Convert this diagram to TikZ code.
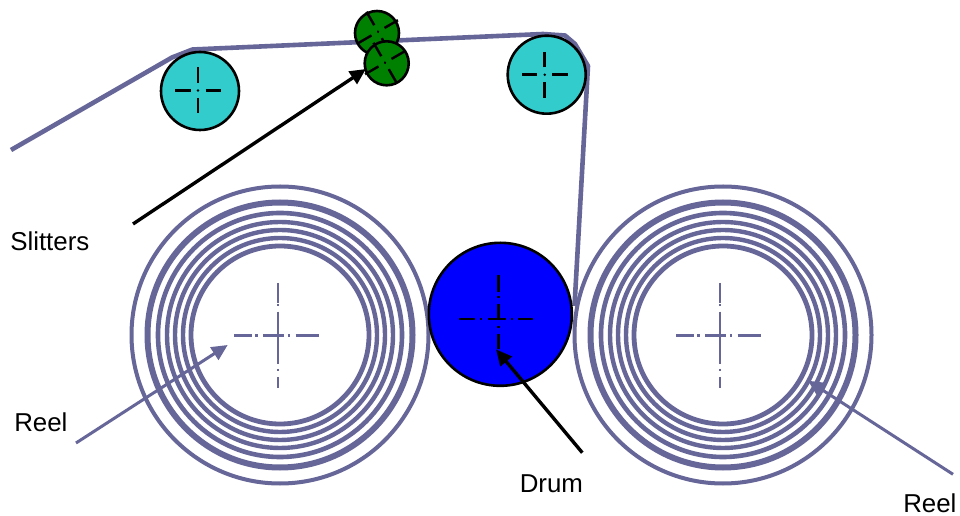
\documentclass[tikz,border=0pt]{standalone}
\usepackage{fontspec}
\setmainfont{Liberation Sans}
\usetikzlibrary{arrows.meta}
\definecolor{web}{HTML}{666699}
\definecolor{teal}{HTML}{33CCCC}
\definecolor{grn}{HTML}{008000}
\definecolor{blu}{HTML}{0000FF}
\tikzset{
  px/.style={line width=#1*0.75pt},
  webline/.style={draw=web,px=4.6,line join=round},
  ring/.style={draw=web,px=#1},
  roller/.style={circle,draw=black,px=2.6,inner sep=0pt,outer sep=0pt,minimum size=#1*0.75pt},
  lbl/.style={font=\fontsize{19.4pt}{22pt}\selectfont,inner sep=0pt,anchor=base west,text=black},
  pointer/.style={draw=black,px=3.4,-{Triangle[length=12pt,width=11pt]},shorten >=0pt},
  weblead/.style={draw=web,px=3,-{Triangle[length=12pt,width=11pt]}},
  cl/.style={draw=#1,px=2.5}
}
\newcommand{\crossmark}[6]{% x, y, rotation, inner, outer, colour
  \begin{scope}[shift={(#1,#2)},rotate=#3]
    \foreach \a in {0,90,180,270}
      \draw[cl=#6,rotate=\a] (#4,0) -- (#5,0);
    \fill[#6] (0,0) circle (1.4);
  \end{scope}}
\begin{document}
\begin{tikzpicture}[x=0.75pt,y=-0.75pt]
\useasboundingbox (0,0) rectangle (960,516);
\fill[white] (0,0) rectangle (960,516);

% web
\coordinate (w0) at (11,150);
\coordinate (w1) at (172,57.5);
\coordinate (w2) at (192.5,49.5);
\coordinate (w3) at (543,34);
\coordinate (w4) at (565,35.5);
\coordinate (w5) at (575,44);
\coordinate (w6) at (588,66);
\coordinate (w7) at (574.5,306);
\draw[webline] (w0) -- (w1) -- (w2) -- (w3) -- (w4) -- (w5) -- (w6) -- (w7);

% reels
\foreach \cx in {280,723}{
  \draw[ring=4]   (\cx,335) circle (148.5);
  \draw[ring=6]   (\cx,335) circle (132.5);
  \draw[ring=4.6] (\cx,335) circle (122);
  \draw[ring=4.4] (\cx,335) circle (113);
  \draw[ring=4.4] (\cx,335) circle (105);
  \draw[ring=4.4] (\cx,335) circle (97);
  \draw[ring=4.8] (\cx,335) circle (89);
}
% reel centre lines
\draw[draw=web,px=2.5,dash pattern=on 13.5pt off 2.6pt on 1.8pt off 4.2pt on 15.7pt off 2.6pt on 1.8pt off 4pt on 18.5pt off 40pt] (234,335.3) -- (319,335.3);
\draw[draw=web,px=2.5,dash pattern=on 14.8pt off 1pt on 1.6pt off 4pt on 39pt off 4pt on 1.6pt off 4.5pt on 10.5pt off 40pt] (278,283) -- (278,388);
\draw[draw=web,px=2.5,dash pattern=on 13.5pt off 2.6pt on 1.8pt off 4.2pt on 15.7pt off 2.6pt on 1.8pt off 4pt on 18.5pt off 40pt] (676,335.3) -- (761,335.3);
\draw[draw=web,px=2.5,dash pattern=on 14.8pt off 1pt on 1.6pt off 4pt on 39pt off 4pt on 1.6pt off 4.5pt on 10.5pt off 40pt] (720,283) -- (720,388);

% teal rollers
\node[roller=78,fill=teal] (tealL) at (200,91) {};
\crossmark{198}{90.5}{0}{7.5}{23}{black}
\node[roller=78,fill=teal] (tealR) at (546.7,74.7) {};
\crossmark{544.7}{74.7}{0}{7.5}{23}{black}

% slitters
\node[roller=44,fill=grn] (slitA) at (377,33) {};
\crossmark{378}{31.7}{30}{7.5}{23}{black}
\node[roller=44,fill=grn] (slitB) at (386.7,63.3) {};
\crossmark{385}{62.7}{30}{7.5}{23}{black}

% drum
\node[roller=143,fill=blu] (drum) at (500.3,314.3) {};
\draw[draw=black,px=2.5,dash pattern=on 11.7pt off 4pt on 1.6pt off 4pt on 13.5pt off 4pt on 1.6pt off 3.5pt on 11pt off 40pt] (459.3,319) -- (535,319);
\draw[draw=black,px=2.5,dash pattern=on 12.5pt off 3.5pt on 1.6pt off 4.5pt on 12pt off 4pt on 1.6pt off 4.5pt on 11pt off 40pt] (498.7,275) -- (498.7,352);

% labels
\node[lbl] (lslit) at (10,250.5) {Slitters};
\node[lbl] (lreelA) at (14,431.5) {Reel};
\node[lbl] (ldrum) at (519.5,492) {Drum};
\node[lbl] (lreelB) at (903,512.5) {Reel};

% pointers
\coordinate (pa) at (133,224);
\coordinate (pat) at (366,69);
\draw[pointer] (pa) -- (pat);
\coordinate (pb) at (582.3,452.7);
\coordinate (pbt) at (496,349.3);
\draw[pointer] (pb) -- (pbt);
\coordinate (pc) at (76,443);
\coordinate (pct) at (227.7,345);
\draw[weblead] (pc) -- (pct);
\coordinate (pd) at (953,474.3);
\coordinate (pdt) at (808,380.7);
\draw[weblead] (pd) -- (pdt);
\end{tikzpicture}
\end{document}
